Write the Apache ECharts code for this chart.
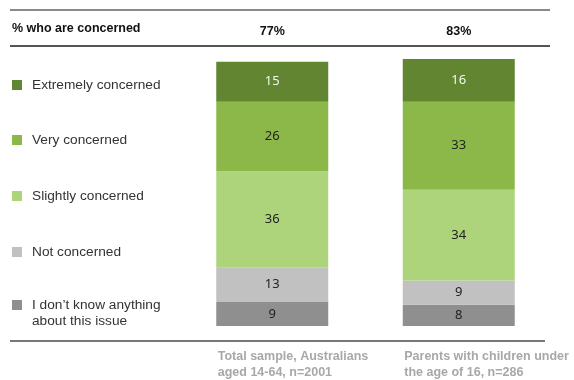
<!DOCTYPE html>
<html>
<head>
<meta charset="utf-8">
<script src="https://cdn.jsdelivr.net/npm/echarts@6/dist/echarts.min.js"></script>
<style>
  html, body { margin: 0; padding: 0; background: #fff; }
  #chart { width: 574px; height: 380px; }
</style>
</head>
<body>
<div id="chart"></div>
<script>
// Survey groups (bottom axis) and the share of each group that is concerned (top axis)
const groups = [
  ['Total sample, Australians', 'aged 14-64, n=2001'],
  ['Parents with children under', 'the age of 16, n=286']
];
const concernedTotals = ['77%', '83%'];

// Response levels, top of the legend first
const levels = [
  'Extremely concerned',
  'Very concerned',
  'Slightly concerned',
  'Not concerned',
  'I don\u2019t know anything\nabout this issue'
];
const levelColors = ['#628532', '#8cb84a', '#aed47b', '#c1c1c1', '#8f8f8f'];

// Percentages per level, one value per group
const extremely = [15, 16];
const very = [26, 33];
const slightly = [36, 34];
const notConcerned = [13, 9];
const dontKnow = [9, 8];
const levelValues = [extremely, very, slightly, notConcerned, dontKnow];

const chart = echarts.init(document.getElementById('chart'), null, { renderer: 'canvas' });

// Stack from the bottom up: "don't know" sits at the base, "extremely" on top
const series = [];
for (let i = levels.length - 1; i >= 0; i--) {
  series.push({
    name: levels[i],
    type: 'bar',
    stack: 'total',
    barWidth: 112,
    data: levelValues[i],
    itemStyle: { color: levelColors[i] },
    label: {
      show: true,
      position: 'inside',
      fontFamily: 'Noto Sans',
      fontSize: 13,
      color: i === 0 ? '#f4f4f4' : '#222'
    },
    emphasis: { disabled: true }
  });
}

// One legend block per level so each row can sit on its own line.
// Two-line names get an empty leading line so the swatch lines up with the first line.
const legendCenters = [80, 135, 191, 247, 300];
const legends = levels.map((name, i) => {
  const twoLine = name.indexOf('\n') >= 0;
  return {
    left: 7,
    top: twoLine ? legendCenters[i] - 24 : legendCenters[i] - 8,
    orient: 'vertical',
    itemWidth: 10,
    itemHeight: 10,
    itemGap: 10,
    selectedMode: false,
    icon: 'rect',
    data: [name],
    formatter: twoLine ? (n => ' \n' + n) : (n => n),
    textStyle: {
      fontFamily: 'Liberation Sans',
      fontSize: 13.7,
      color: '#333',
      lineHeight: 16,
      padding: [0, 0, 0, 5]
    }
  };
});

chart.setOption({
  animation: false,
  backgroundColor: '#fff',
  title: {
    text: '% who are concerned',
    left: 7,
    top: 17,
    textStyle: { fontFamily: 'Liberation Sans', fontSize: 12.5, fontWeight: 'bold', color: '#111' }
  },
  legend: legends,
  grid: { left: 179, right: 22, top: 59, bottom: 54 },
  xAxis: [
    {
      type: 'category',
      data: groups.map(g => g.join('\n')),
      position: 'bottom',
      axisLine: { show: false },
      axisTick: { show: false },
      axisLabel: {
        interval: 0,
        margin: 22,
        align: 'center',
        formatter: function (v) {
          return v.split('\n').map(s => '{a|' + s + '}').join('\n');
        },
        rich: {
          a: {
            width: 109,
            align: 'left',
            fontFamily: 'Liberation Sans',
            fontSize: 12.5,
            fontWeight: 'bold',
            color: '#a8a8a8',
            lineHeight: 16.5
          }
        }
      }
    },
    {
      type: 'category',
      data: concernedTotals,
      position: 'top',
      axisLine: { show: false },
      axisTick: { show: false },
      axisLabel: {
        interval: 0,
        margin: 21,
        fontFamily: 'Liberation Sans',
        fontSize: 12.5,
        fontWeight: 'bold',
        color: '#111'
      }
    }
  ],
  yAxis: { type: 'value', min: 0, max: 100, show: false },
  series: series,
  graphic: [
    { type: 'line', shape: { x1: 10, y1: 10, x2: 550, y2: 10 }, style: { stroke: '#8a8a8a', lineWidth: 2 } },
    { type: 'line', shape: { x1: 10, y1: 46, x2: 550, y2: 46 }, style: { stroke: '#555', lineWidth: 2 } },
    { type: 'line', shape: { x1: 10, y1: 341, x2: 545, y2: 341 }, style: { stroke: '#777', lineWidth: 2 } }
  ]
});
</script>
</body>
</html>
